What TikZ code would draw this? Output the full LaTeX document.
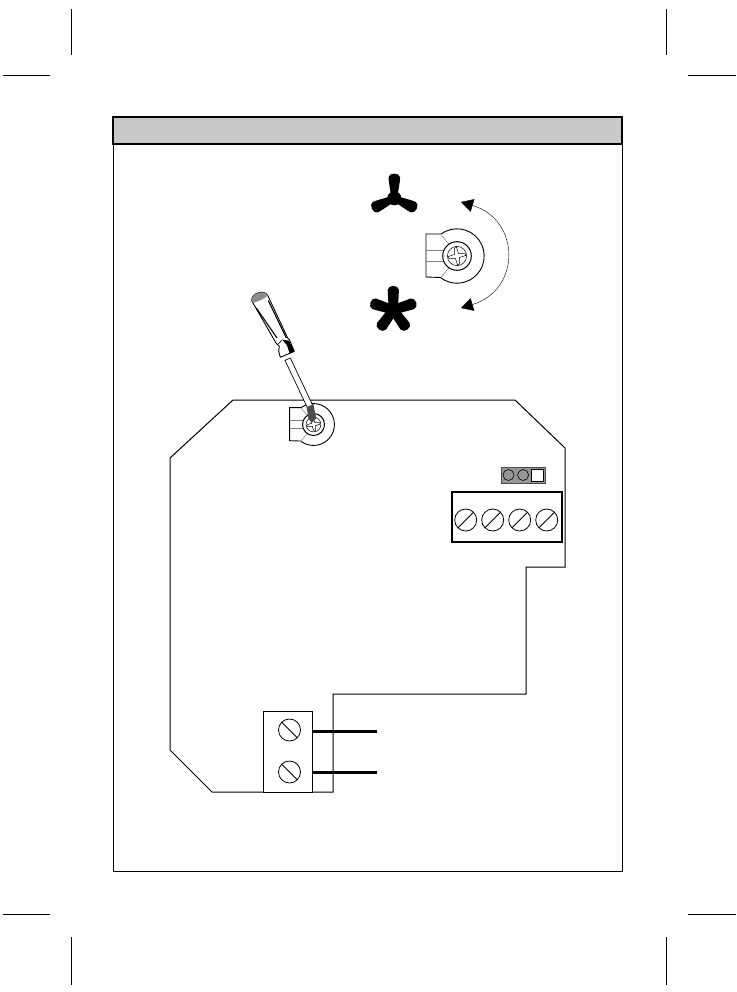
\documentclass[tikz,border=0pt]{standalone}
\usepackage{xcolor}
\usetikzlibrary{positioning, calc, arrows.meta}
\definecolor{barColor}{RGB}{200,200,200}
\definecolor{pinColor}{RGB}{150,150,150}
\tikzset{
    cropline/.style={black, line width=0.7pt},
    boardline/.style={black, line width=1pt},
    terminal/.style={draw, line width=1.2pt, fill=white, inner sep=0pt, outer sep=0pt},
    screwhead/.style={
        circle, draw, line width=0.8pt, minimum size=22pt, inner sep=0pt, outer sep=0pt,
        path picture={\draw[line width=0.8pt] (path picture bounding box.south west) -- (path picture bounding box.north east);}
    },
    screwback/.style={
        circle, draw, line width=0.8pt, minimum size=22pt, inner sep=0pt, outer sep=0pt,
        path picture={\draw[line width=0.8pt] (path picture bounding box.north west) -- (path picture bounding box.south east);}
    },
    wire/.style={line width=3pt},
    sweep/.style={{Triangle[length=12pt,width=13pt]}-{Triangle[length=12pt,width=13pt]}, line width=0.4pt},
    trimpot/.pic={
        \draw[line width=0.9pt] (-16,-22) -- (-31,-22) -- (-31,21) -- (-16,21.5);
        \draw[line width=0.9pt] (-16,-22) arc[start angle=-126, end angle=126, radius=27.2];
        \draw[gray, line width=0.5pt] (-31,-5.5) -- (-14,-5.5) (-31,5) -- (-14,5);
        \draw[gray, line width=0.5pt] (-16,-21) -- (-8,-12) (-16,21) -- (-8,12);
        \draw[line width=1pt, fill=white] (0,0) circle[radius=14.3];
        \draw[line width=0.5pt] (0,0) circle[radius=9.6];
        \draw[line width=0.5pt, rotate=10] (-2,-2) -- (-1,-8.5) -- (1,-8.5) -- (2,-2) -- (8.5,-1) -- (8.5,1) -- (2,2) -- (1,8.5) -- (-1,8.5) -- (-2,2) -- (-8.5,1) -- (-8.5,-1) -- cycle;
    },
    fanblade/.pic={
        \fill (-3.4,0) .. controls (-3.4,-8) and (-5.8,-15) .. (-5.8,-21) .. controls (-5.4,-26) and (5.4,-26) .. (5.8,-21) .. controls (5.8,-15) and (3.4,-8) .. (3.4,0) -- cycle;
    },
    starblade/.pic={
        \fill (-4.6,0) -- (-5.6,-20) .. controls (-5.2,-25.5) and (5.2,-25.5) .. (5.6,-20) -- (4.6,0) -- cycle;
    }
}
\begin{document}
\begin{tikzpicture}[x=1pt, y=-1pt]
                \useasboundingbox (0,0) rectangle (736,992);

                % crop marks
                \draw[cropline] (71,9) -- (71,55) (666,9) -- (666,55) (71,937) -- (71,985) (666,937) -- (666,985);
                \draw[cropline] (3,75) -- (50,75) (688,75) -- (736,75) (3,914) -- (50,914) (688,914) -- (736,914);

                % page frame
                \draw[line width=1pt] (113,117) rectangle (622,871);
                \draw[line width=1.6pt, fill=barColor] (113,117) rectangle (622,144);

                % fan symbols
                \foreach \a in {0,115,245}
                    \pic[rotate=\a] at (394.3,198.3) {fanblade};
                \fill (394.3,198.3) circle[radius=7];
                \foreach \a in {0,72,144,216,288}
                    \pic[rotate=\a] at (393.3,310) {starblade};

                % upper pot with sweep arrows
                \pic at (457,256) {trimpot};
                \coordinate (sweepTop) at (461,202);
                \coordinate (sweepBottom) at (461,308);
                \draw[sweep] (sweepTop) .. controls (521,220) and (521,290) .. (sweepBottom);

                % board
                \draw[boardline] (233,400) -- (515,400) -- (565,448) -- (565,567) -- (526,567) -- (526,694) -- (333,694) -- (333,792) -- (212,792) -- (170,750) -- (170,458) -- cycle;
                \pic[scale=0.77] at (313.5,424.5) {trimpot};

                % screwdriver
                \begin{scope}[xshift=240pt, yshift=-285pt, x=0.3333pt, y=-0.3333pt]
                    \draw[line width=0.7pt, fill=white] (135,226) -- (151,219) -- (220,365) -- (204,372) -- cycle;
                    \fill[black!70] (200,366) -- (220,358) -- (229,400) -- (215,414) -- (205,400) -- cycle;
                \end{scope}
                \begin{scope}[xshift=245pt, yshift=-288pt, x=0.3333pt, y=-0.3333pt]
                    \draw[line width=0.9pt, fill=white, line join=round] (20,38) .. controls (18,16) and (57,3) .. (68,22) -- (128,150) -- (133,155) -- (148,190) -- (106,208) -- (101,190) -- (103,175) -- (93,165) -- cycle;
                    \fill[black!45] (20,38) .. controls (18,16) and (57,3) .. (68,22) .. controls (60,33) and (35,42) .. (25,44) -- cycle;
                    \draw[line width=1.1pt] (34,60) -- (96,150) (70,38) -- (124,150);
                    \fill (112,155) -- (132,158) -- (148,190) -- (134,196) -- (126,172) -- cycle;
                    \draw[line width=0.6pt] (100,168) -- (112,155);
                \end{scope}

                % terminal block and jumper
                \node[terminal, minimum width=110pt, minimum height=50pt] (topBlock) at (507,517) {};
                \node[screwhead] (screwA) at (465.7,520) {};
                \node[screwhead, right=5pt of screwA] (screwB) {};
                \node[screwhead, right=5pt of screwB] (screwC) {};
                \node[screwhead, right=5pt of screwC] (screwD) {};
                \node[draw=black!70, line width=0.6pt, fill=pinColor, minimum width=44pt, minimum height=16pt, inner sep=0pt] (jumper) at (523,475) {};
                \node[circle, draw, line width=0.6pt, fill=pinColor, minimum size=11pt, inner sep=0pt] (pinA) at (508.5,475) {};
                \node[circle, draw, line width=0.6pt, fill=pinColor, minimum size=11pt, inner sep=0pt, right=3pt of pinA] (pinB) {};
                \node[draw, line width=0.9pt, fill=white, minimum width=12pt, minimum height=12.5pt, inner sep=0pt] (pinC) at (537,475.5) {};

                % lower terminal with wires
                \node[terminal, line width=0.9pt, minimum width=49pt, minimum height=81pt] (lowBlock) at (287.5,751.5) {};
                \node[screwback] (screwE) at (289.5,730) {};
                \node[screwback] (screwF) at (289.5,772) {};
                \coordinate (wireEnd) at (377,731);
                \coordinate (wireFar) at (377,772);
                \draw[wire] (lowBlock.east |- wireEnd) -- (wireEnd);
                \draw[wire] (lowBlock.east |- wireFar) -- (wireFar);
            \end{tikzpicture}
\end{document}
